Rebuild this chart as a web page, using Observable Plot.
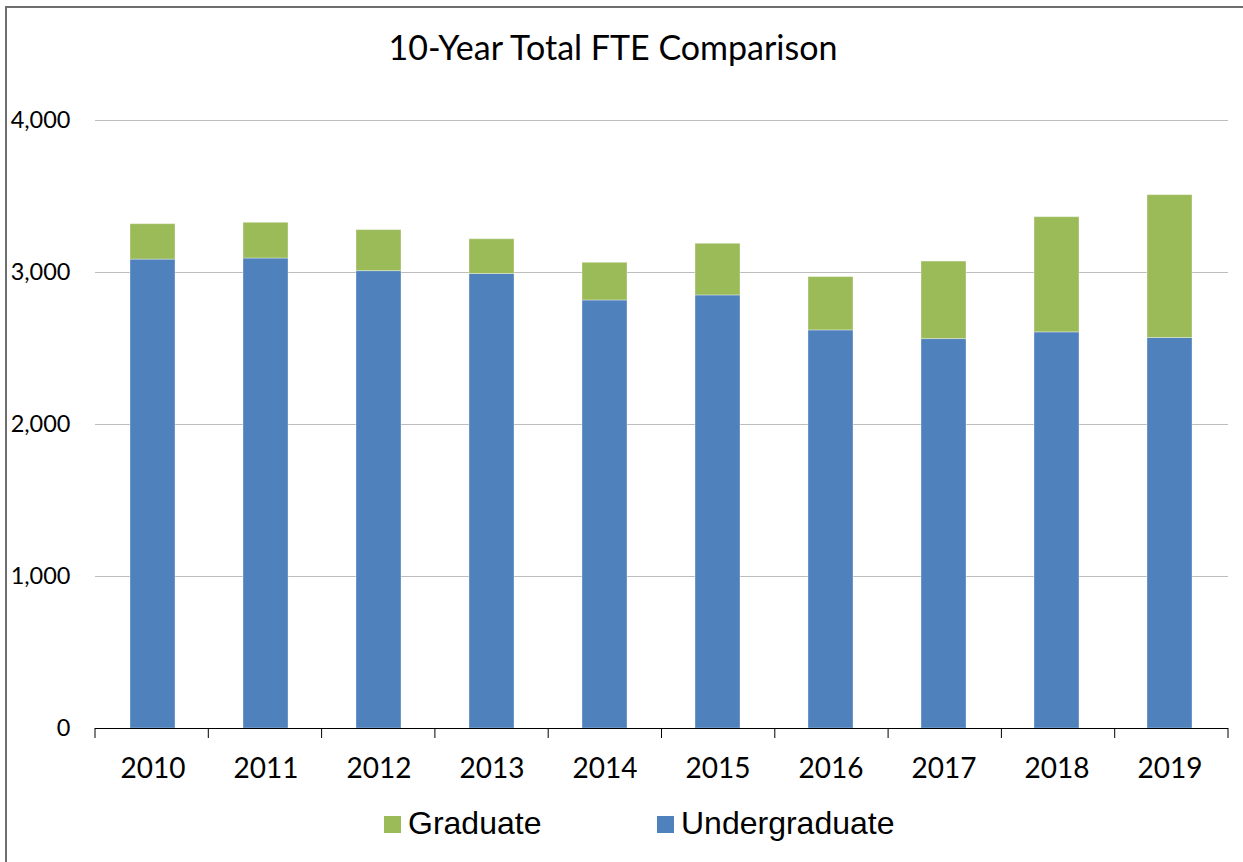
<!DOCTYPE html>
<html>
<head>
<meta charset="utf-8">
<script src="https://cdn.jsdelivr.net/npm/d3@7"></script>
<script src="https://cdn.jsdelivr.net/npm/@observablehq/plot@0.6"></script>
<style>
  html, body { margin: 0; padding: 0; background: #fff; }
  #wrap { position: relative; width: 1243px; height: 862px; overflow: hidden; background: #fff; }
  #frame { position: absolute; left: 5px; top: 6px; width: 1400px; height: 1000px;
           border-left: 2px solid #6e6e6e; border-top: 2px solid #6e6e6e; }
  #title { position: absolute; left: 0; top: 26px; width: 1226px; text-align: center;
           font-family: Lato, "Open Sans", sans-serif; font-size: 34px; color: #000; }
  #chart { position: absolute; left: 0; top: 0; }
  #legend { position: absolute; top: 803px; left: 0; width: 1243px; height: 40px;
            font-family: "Liberation Sans", Arial, sans-serif; font-size: 32px; color: #000; }
  .item { position: absolute; top: 0; display: flex; align-items: center; height: 40px; }
  .sw { width: 17px; height: 17px; margin-right: 7px; margin-top: 3px; }
</style>
</head>
<body>
<div id="wrap">
  <div id="frame"></div>
  <div id="title">10-Year Total FTE Comparison</div>
  <div id="chart"></div>
  <div id="legend"></div>
</div>
<script>
const years = ["2010","2011","2012","2013","2014","2015","2016","2017","2018","2019"];
const undergraduate = [3085, 3092, 3009, 2990, 2816, 2849, 2619, 2562, 2606, 2569];
const graduate = [233, 235, 270, 229, 248, 340, 351, 510, 758, 940];
const seriesNames = ["Undergraduate", "Graduate"];
const seriesColors = ["#4F81BD", "#9BBB59"];
const yTicks = [0, 1000, 2000, 3000, 4000];

const rows = [];
years.forEach((y, i) => rows.push({year: y, series: "Undergraduate", value: undergraduate[i]}));
years.forEach((y, i) => rows.push({year: y, series: "Graduate", value: graduate[i]}));

// category boundary tick marks below the x axis
function boundaryTicks(index, scales, values, dimensions) {
  const {width, height, marginLeft, marginRight, marginBottom} = dimensions;
  const n = years.length;
  const step = (width - marginLeft - marginRight) / n;
  const y0 = height - marginBottom;
  const g = d3.create("svg:g");
  for (let k = 0; k <= n; k++) {
    const x = marginLeft + k * step;
    g.append("line").attr("x1", x).attr("x2", x).attr("y1", y0).attr("y2", y0 + 10)
      .attr("stroke", "#000").attr("stroke-width", 1);
  }
  return g.node();
}

const plot = Plot.plot({
  width: 1243,
  height: 800,
  marginTop: 120,
  marginBottom: 72,
  marginLeft: 95,
  marginRight: 15,
  style: {fontFamily: "Lato, 'Open Sans', sans-serif", background: "transparent", color: "#000"},
  x: {domain: years, paddingInner: 0.6, paddingOuter: 0.3, label: null},
  y: {domain: [0, 4000], label: null},
  color: {domain: seriesNames, range: seriesColors},
  marks: [
    Plot.ruleY(yTicks.filter(d => d > 0), {stroke: "#bdbdbd", strokeWidth: 1}),
    Plot.barY(rows, {x: "year", y: "value", fill: "series", stroke: "#ffffff", strokeOpacity: 0.35, strokeWidth: 1}),
    Plot.ruleY([0], {stroke: "#000", strokeWidth: 1}),
    boundaryTicks,
    Plot.axisY({ticks: yTicks, tickFormat: d3.format(","), tickSize: 0, tickPadding: 25, fontSize: 23.5, label: null}),
    Plot.axisX({tickSize: 0, tickPadding: 30, fontSize: 28, label: null})
  ]
});
document.getElementById("chart").appendChild(plot);

// legend
const legend = document.getElementById("legend");
const legendItems = [{name: "Graduate", color: seriesColors[1], left: 384}, {name: "Undergraduate", color: seriesColors[0], left: 657}];
legendItems.forEach(it => {
  const d = document.createElement("div");
  d.className = "item";
  d.style.left = it.left + "px";
  const s = document.createElement("div");
  s.className = "sw";
  s.style.background = it.color;
  const t = document.createElement("span");
  t.textContent = it.name;
  d.appendChild(s); d.appendChild(t);
  legend.appendChild(d);
});
</script>
</body>
</html>
